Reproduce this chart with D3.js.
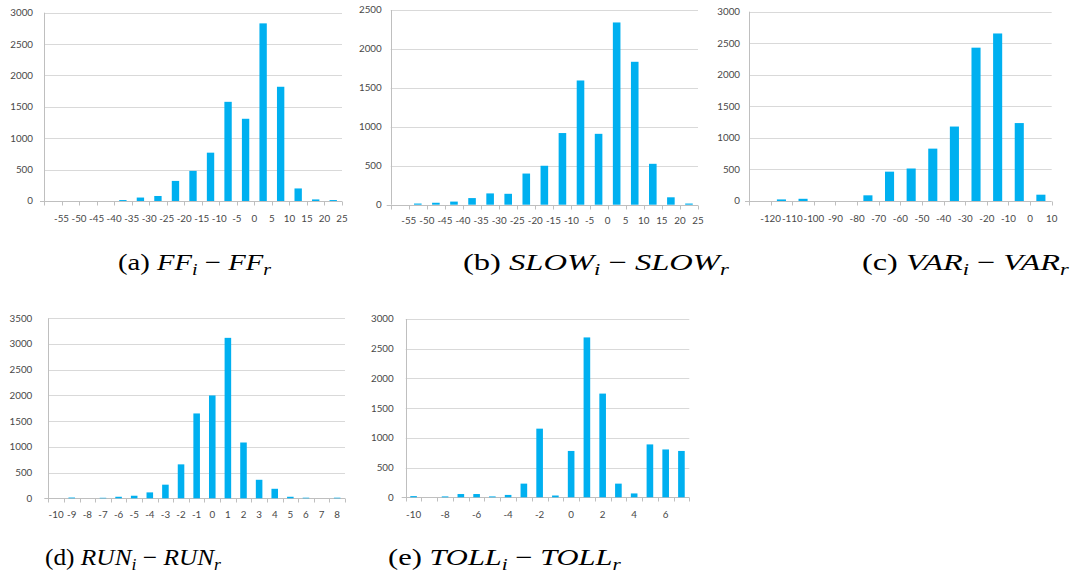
<!DOCTYPE html>
<html>
<head>
<meta charset="utf-8">
<script src="https://cdn.jsdelivr.net/npm/d3@7/dist/d3.min.js"></script>
<style>
  html, body { margin: 0; padding: 0; background: #fff; }
  svg { display: block; }
  .tick-label { font-family: Lato, "Open Sans", sans-serif; font-size: 9.8px; fill: #474747; }
  .caption { font-family: "Liberation Serif", "Times New Roman", serif; font-size: 23px; fill: #000; }
  .caption .m { font-style: italic; }
</style>
</head>
<body>
<svg id="fig" width="1074" height="581"></svg>
<script>
// ---- (a) FF differences: bins of width 5 (start values) ----
const ffBinStarts = [-60, -55, -50, -45, -40, -35, -30, -25, -20, -15, -10, -5, 0, 5, 10, 15, 20];
const ffCounts    = [0, 0, 0, 0, 15, 55, 80, 320, 480, 770, 1580, 1310, 2830, 1820, 200, 25, 15];
const ffTicks     = [-55, -50, -45, -40, -35, -30, -25, -20, -15, -10, -5, 0, 5, 10, 15, 20, 25];
const ffYTicks    = [0, 500, 1000, 1500, 2000, 2500, 3000];

// ---- (b) SLOW differences ----
const slowBinStarts = [-60, -55, -50, -45, -40, -35, -30, -25, -20, -15, -10, -5, 0, 5, 10, 15, 20];
const slowCounts    = [0, 15, 25, 40, 85, 145, 140, 400, 500, 920, 1595, 910, 2340, 1835, 525, 95, 15];
const slowTicks     = [-55, -50, -45, -40, -35, -30, -25, -20, -15, -10, -5, 0, 5, 10, 15, 20, 25];
const slowYTicks    = [0, 500, 1000, 1500, 2000, 2500];

// ---- (c) VAR differences: bins of width 10 ----
const varBinStarts = [-130, -120, -110, -100, -90, -80, -70, -60, -50, -40, -30, -20, -10, 0];
const varCounts    = [0, 25, 35, 0, 0, 90, 465, 515, 830, 1180, 2430, 2655, 1235, 100];
const varTicks     = [-120, -110, -100, -90, -80, -70, -60, -50, -40, -30, -20, -10, 0, 10];
const varYTicks    = [0, 500, 1000, 1500, 2000, 2500, 3000];

// ---- (d) RUN differences: integer categories ----
const runCats   = [-10, -9, -8, -7, -6, -5, -4, -3, -2, -1, 0, 1, 2, 3, 4, 5, 6, 7, 8];
const runCounts = [0, 15, 0, 10, 30, 50, 115, 265, 660, 1650, 2000, 3120, 1085, 360, 185, 30, 12, 0, 12];
const runTicks  = [-10, -9, -8, -7, -6, -5, -4, -3, -2, -1, 0, 1, 2, 3, 4, 5, 6, 7, 8];
const runYTicks = [0, 500, 1000, 1500, 2000, 2500, 3000, 3500];

// ---- (e) TOLL differences: integer categories ----
const tollCats   = [-10, -9, -8, -7, -6, -5, -4, -3, -2, -1, 0, 1, 2, 3, 4, 5, 6, 7];
const tollCounts = [20, 0, 15, 55, 55, 15, 40, 230, 1155, 30, 780, 2690, 1745, 230, 65, 890, 805, 780];
const tollTicks  = [-10, -8, -6, -4, -2, 0, 2, 4, 6];
const tollYTicks = [0, 500, 1000, 1500, 2000, 2500, 3000];

const BAR = "#00b0f0", GRID = "#d9d9d9", AXIS = "#bfbfbf";
const svg = d3.select("#fig");

// Shared frame: gridlines, y labels, x axis with boundary ticks
function frame(g, y, yTicks, x0, x1, yLabelGap, boundaries) {
  g.selectAll("line.grid").data(yTicks.filter(v => v > 0)).join("line")
    .attr("x1", x0).attr("x2", x1)
    .attr("y1", d => Math.round(y(d)) + 0.5).attr("y2", d => Math.round(y(d)) + 0.5)
    .attr("stroke", GRID).attr("stroke-width", 1);
  g.selectAll("text.ylab").data(yTicks).join("text")
    .attr("class", "tick-label")
    .attr("x", x0 - yLabelGap).attr("y", d => y(d))
    .attr("dy", "0.35em").attr("text-anchor", "end")
    .text(d => d);
  // y axis line
  g.append("line").attr("x1", Math.round(x0) + 0.5).attr("x2", Math.round(x0) + 0.5)
    .attr("y1", y(y.domain()[1])).attr("y2", y(0))
    .attr("stroke", AXIS);
  // x axis line
  const yb = Math.round(y(0)) + 0.5;
  g.append("line").attr("x1", x0 - 4).attr("x2", x1).attr("y1", yb).attr("y2", yb)
    .attr("stroke", AXIS);
  g.selectAll("line.xt").data(boundaries).join("line")
    .attr("x1", d => Math.round(d) + 0.5).attr("x2", d => Math.round(d) + 0.5)
    .attr("y1", yb).attr("y2", yb + 4)
    .attr("stroke", AXIS);
}

// Histogram with labels on bin edges
function edgeHist(opt) {
  const g = svg.append("g");
  const w = opt.starts[1] - opt.starts[0];
  const lo = opt.starts[0], hi = opt.starts[opt.starts.length - 1] + w;
  const x = d3.scaleLinear().domain([lo, hi]).range([opt.x0, opt.x1]);
  const y = d3.scaleLinear().domain([0, d3.max(opt.yTicks)]).range([opt.y0, opt.yTop]);
  const edges = d3.range(lo, hi + w / 2, w);
  frame(g, y, opt.yTicks, opt.x0, opt.x1, opt.gap, edges.map(x));
  const bw = (x(lo + w) - x(lo)) * 0.42;
  g.selectAll("rect").data(opt.starts.map((s, i) => ({ s, c: opt.counts[i] }))).join("rect")
    .attr("x", d => x(d.s + w / 2) - bw / 2).attr("width", bw)
    .attr("y", d => y(d.c)).attr("height", d => y(0) - y(d.c))
    .attr("fill", BAR);
  g.selectAll("text.xlab").data(opt.ticks).join("text")
    .attr("class", "tick-label").attr("text-anchor", "middle")
    .attr("x", d => x(d)).attr("y", opt.labelY)
    .text(d => d);
}

// Histogram with labels centred on categories
function catHist(opt) {
  const g = svg.append("g");
  const x = d3.scaleBand().domain(opt.cats).range([opt.x0, opt.x1]).paddingInner(0).paddingOuter(0);
  const y = d3.scaleLinear().domain([0, d3.max(opt.yTicks)]).range([opt.y0, opt.yTop]);
  const bounds = opt.cats.map(c => x(c)).concat([opt.x1]);
  frame(g, y, opt.yTicks, opt.x0, opt.x1, opt.gap, bounds);
  const bw = x.bandwidth() * 0.42;
  g.selectAll("rect").data(opt.cats.map((c, i) => ({ c, v: opt.counts[i] }))).join("rect")
    .attr("x", d => x(d.c) + x.bandwidth() / 2 - bw / 2).attr("width", bw)
    .attr("y", d => y(d.v)).attr("height", d => y(0) - y(d.v))
    .attr("fill", BAR);
  g.selectAll("text.xlab").data(opt.ticks).join("text")
    .attr("class", "tick-label").attr("text-anchor", "middle")
    .attr("x", d => x(d) + x.bandwidth() / 2).attr("y", opt.labelY)
    .text(d => d);
}

edgeHist({ starts: ffBinStarts, counts: ffCounts, ticks: ffTicks, yTicks: ffYTicks,
  x0: 44, x1: 342, y0: 201, yTop: 12.7, gap: 11, labelY: 221.5 });
edgeHist({ starts: slowBinStarts, counts: slowCounts, ticks: slowTicks, yTicks: slowYTicks,
  x0: 390.7, x1: 698, y0: 204.7, yTop: 10, gap: 9, labelY: 223.5 });
edgeHist({ starts: varBinStarts, counts: varCounts, ticks: varTicks, yTicks: varYTicks,
  x0: 749, x1: 1051.7, y0: 201, yTop: 11.7, gap: 9, labelY: 221.5 });
catHist({ cats: runCats, counts: runCounts, ticks: runTicks, yTicks: runYTicks,
  x0: 48.3, x1: 345, y0: 498.3, yTop: 318.3, gap: 16, labelY: 517.5 });
catHist({ cats: tollCats, counts: tollCounts, ticks: tollTicks, yTicks: tollYTicks,
  x0: 405.7, x1: 689.3, y0: 497.3, yTop: 319, gap: 12, labelY: 517.5 });

// Sub-figure captions: label, variable name
const captions = [
  { tag: "(a)", v: "FF",   x: 118, y: 270, w: 154 },
  { tag: "(b)", v: "SLOW", x: 463, y: 270, w: 267 },
  { tag: "(c)", v: "VAR",  x: 862, y: 270, w: 208 },
  { tag: "(d)", v: "RUN",  x: 45,  y: 565, w: 177 },
  { tag: "(e)", v: "TOLL", x: 388, y: 565, w: 234 }
];
captions.forEach(c => {
  const t = svg.append("text").attr("class", "caption").attr("x", c.x).attr("y", c.y);
  t.append("tspan").text(c.tag + " ");
  t.append("tspan").attr("class", "m").text(c.v);
  t.append("tspan").attr("class", "m").attr("font-size", "16px").attr("dy", 5).text("i");
  t.append("tspan").attr("dy", -5).text(" \u2212 ");
  t.append("tspan").attr("class", "m").text(c.v);
  t.append("tspan").attr("class", "m").attr("font-size", "16px").attr("dy", 5).text("r");
  const bb = t.node().getBBox();
  const s = c.w / bb.width;
  t.attr("transform", `translate(${c.x},0) scale(${s},1) translate(${-c.x},0)`);
});
</script>
</body>
</html>
